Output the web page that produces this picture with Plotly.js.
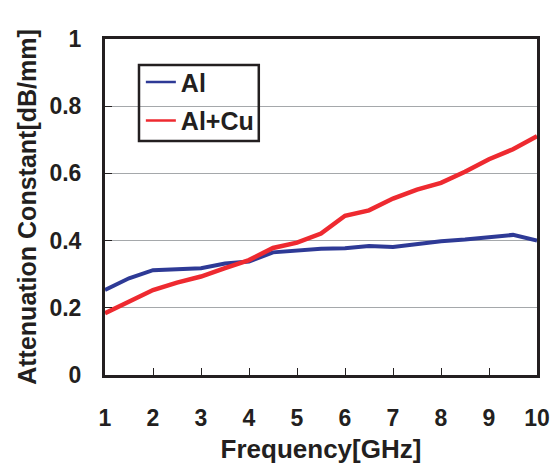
<!DOCTYPE html>
<html>
<head>
<meta charset="utf-8">
<script src="https://cdn.plot.ly/plotly-3.0.1.min.js"></script>
<style>html,body{margin:0;padding:0;background:#fff;}#chart{width:559px;height:464px;}</style>
</head>
<body>
<div id="chart"></div>
<script>
const freq = [1, 1.5, 2, 2.5, 3, 3.5, 4, 4.5, 5, 5.5, 6, 6.5, 7, 7.5, 8, 8.5, 9, 9.5, 10];
const al   = [0.253, 0.288, 0.312, 0.316, 0.318, 0.332, 0.338, 0.365, 0.372, 0.376, 0.377, 0.384, 0.381, 0.390, 0.398, 0.403, 0.410, 0.417, 0.400];
const alcu = [0.184, 0.218, 0.253, 0.275, 0.293, 0.318, 0.342, 0.378, 0.394, 0.421, 0.474, 0.490, 0.525, 0.552, 0.572, 0.605, 0.642, 0.672, 0.711];
const seriesNames = ['Al', 'Al+Cu'];
const xTicks = [1, 2, 3, 4, 5, 6, 7, 8, 9, 10];
const yTicks = [0, 0.2, 0.4, 0.6, 0.8, 1];

const blue = '#2e3a96';
const red = '#ee2a30';
const ink = '#231f20';
const fontFam = 'Liberation Sans, Arial, sans-serif';

const traces = [
  {x: freq, y: al, mode: 'lines', line: {color: blue, width: 4}, showlegend: false, hoverinfo: 'skip'},
  {x: freq, y: alcu, mode: 'lines', line: {color: red, width: 4.5}, showlegend: false, hoverinfo: 'skip'},
  {x: [null], y: [null], mode: 'lines', name: seriesNames[0], line: {color: blue, width: 2.5}, legendgroup: 'a'},
  {x: [null], y: [null], mode: 'lines', name: seriesNames[1], line: {color: red, width: 2.5}, legendgroup: 'b'}
];

const layout = {
  width: 559, height: 464,
  margin: {l: 105, r: 22, t: 39, b: 89},
  paper_bgcolor: '#fff', plot_bgcolor: '#fff',
  font: {family: fontFam, color: ink, weight: 'bold'},
  xaxis: {
    range: [1, 10], tickvals: xTicks, ticktext: xTicks.map(String),
    ticks: 'inside', ticklen: 7, tickwidth: 1, tickcolor: ink,
    showline: true, linecolor: ink, linewidth: 3, mirror: true,
    showgrid: false, zeroline: false,
    tickfont: {size: 23, family: fontFam, weight: 'bold', color: ink},
    ticklabelstandoff: 20,
    title: {text: 'Frequency[GHz]', font: {size: 26, family: fontFam, weight: 'bold', color: ink}, standoff: 14}
  },
  yaxis: {
    range: [0, 1], tickvals: yTicks, ticktext: yTicks.map(v => String(v)),
    ticks: 'inside', ticklen: 7, tickwidth: 1, tickcolor: ink,
    showline: true, linecolor: ink, linewidth: 3, mirror: true,
    showgrid: true, gridcolor: '#a5a8ab', gridwidth: 1, zeroline: false,
    tickfont: {size: 23, family: fontFam, weight: 'bold', color: ink},
    ticklabelstandoff: 16,
    title: {text: 'Attenuation Constant[dB/mm]', font: {size: 25, family: fontFam, weight: 'bold', color: ink}, standoff: 6}
  },
  shapes: [
    {type: 'rect', xref: 'paper', yref: 'paper', x0: 0.0787, x1: 0.356, y0: 0.6964, y1: 0.9226,
     line: {color: ink, width: 2.5}, fillcolor: 'rgba(0,0,0,0)', layer: 'above'}
  ],
  showlegend: true,
  legend: {
    x: 0.083, y: 0.94, xanchor: 'left', yanchor: 'top',
    bgcolor: 'rgba(0,0,0,0)', borderwidth: 0,
    font: {size: 25, family: fontFam, weight: 'bold', color: ink},
    tracegroupgap: 3, itemwidth: 30
  }
};

Plotly.newPlot('chart', traces, layout, {staticPlot: true, displayModeBar: false});
</script>
</body>
</html>
